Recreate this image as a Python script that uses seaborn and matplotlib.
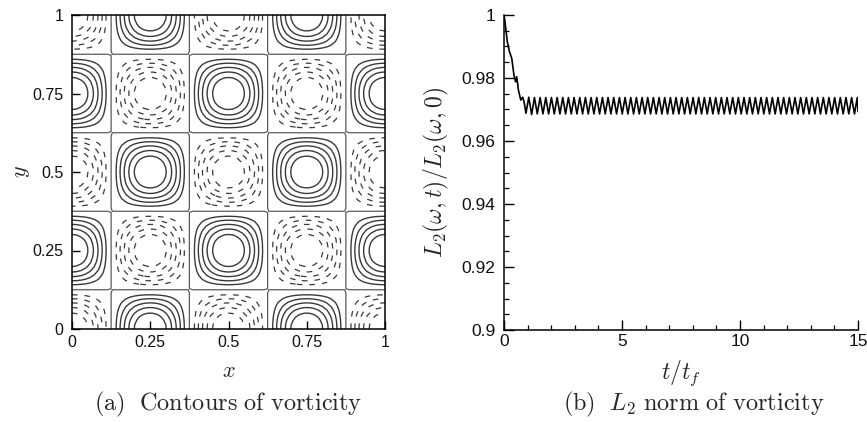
import numpy as np
import pandas as pd
import matplotlib
matplotlib.use("Agg")
import matplotlib.pyplot as plt
import seaborn as sns

# ---------------- panel (a): vorticity contours ----------------
grid_n = 71
vortex_wavenumber = 4.0 * np.pi          # 4 x 4 array of counter-rotating cells
positive_levels = [0.2, 0.35, 0.5, 0.65, 0.8]
negative_levels = [-0.8, -0.65, -0.5, -0.35, -0.2]
zero_level = [0.0]
a_ticks = [0, 0.25, 0.5, 0.75, 1]
a_ticklabels = ["0", "0.25", "0.5", "0.75", "1"]

# ---------------- panel (b): L2 norm history ----------------
transient_t = [0.0, 0.04, 0.14, 0.23, 0.33, 0.42, 0.49, 0.54, 0.61, 0.71, 0.79, 0.85]
transient_v = [1.0, 0.998, 0.9915, 0.9884, 0.9862, 0.981, 0.9788, 0.9804, 0.9762, 0.973, 0.9739, 0.9725]
osc_t = [0.93, 1.05, 1.17, 1.29, 1.41, 1.53, 1.65, 1.77, 1.89, 2.01,
         2.13, 2.25, 2.37, 2.49, 2.61, 2.73, 2.85, 2.97, 3.09, 3.21,
         3.33, 3.45, 3.57, 3.69, 3.81, 3.93, 4.05, 4.17, 4.29, 4.41,
         4.53, 4.65, 4.77, 4.89, 5.01, 5.13, 5.25, 5.37, 5.49, 5.61,
         5.73, 5.85, 5.97, 6.09, 6.21, 6.33, 6.45, 6.57, 6.69, 6.81,
         6.93, 7.05, 7.17, 7.29, 7.41, 7.53, 7.65, 7.77, 7.89, 8.01,
         8.13, 8.25, 8.37, 8.49, 8.61, 8.73, 8.85, 8.97, 9.09, 9.21,
         9.33, 9.45, 9.57, 9.69, 9.81, 9.93, 10.05, 10.17, 10.29, 10.41,
         10.53, 10.65, 10.77, 10.89, 11.01, 11.13, 11.25, 11.37, 11.49, 11.61,
         11.73, 11.85, 11.97, 12.09, 12.21, 12.33, 12.45, 12.57, 12.69, 12.81,
         12.93, 13.05, 13.17, 13.29, 13.41, 13.53, 13.65, 13.77, 13.89, 14.01,
         14.13, 14.25, 14.37, 14.49, 14.61, 14.73, 14.85, 14.97, 15.0]
osc_v = [0.9688, 0.9739, 0.9684, 0.9738, 0.9686, 0.9738, 0.9686, 0.9738, 0.9686, 0.9738,
         0.9686, 0.9738, 0.9686, 0.9738, 0.9686, 0.9738, 0.9686, 0.9738, 0.9686, 0.9738,
         0.9686, 0.9738, 0.9686, 0.9738, 0.9686, 0.9738, 0.9686, 0.9738, 0.9686, 0.9738,
         0.9686, 0.9738, 0.9686, 0.9738, 0.9686, 0.9738, 0.9686, 0.9738, 0.9686, 0.9738,
         0.9686, 0.9738, 0.9686, 0.9738, 0.9686, 0.9738, 0.9686, 0.9738, 0.9686, 0.9738,
         0.9686, 0.9738, 0.9686, 0.9738, 0.9686, 0.9738, 0.9686, 0.9738, 0.9686, 0.9738,
         0.9686, 0.9738, 0.9686, 0.9738, 0.9686, 0.9738, 0.9686, 0.9738, 0.9686, 0.9738,
         0.9686, 0.9738, 0.9686, 0.9738, 0.9686, 0.9738, 0.9686, 0.9738, 0.9686, 0.9738,
         0.9686, 0.9738, 0.9686, 0.9738, 0.9686, 0.9738, 0.9686, 0.9738, 0.9686, 0.9738,
         0.9686, 0.9738, 0.9686, 0.9738, 0.9686, 0.9738, 0.9686, 0.9738, 0.9686, 0.9738,
         0.9686, 0.9738, 0.9686, 0.9738, 0.9686, 0.9738, 0.9686, 0.9738, 0.9686, 0.9738,
         0.9686, 0.9738, 0.9686, 0.9738, 0.9686, 0.9738, 0.9686, 0.9738, 0.9693]
b_xticks = [0, 5, 10, 15]
b_yticks = [0.9, 0.92, 0.94, 0.96, 0.98, 1.0]
b_yticklabels = ["0.9", "0.92", "0.94", "0.96", "0.98", "1"]

# ---------------- style ----------------
sns.set_theme(style="ticks")
plt.rcParams["font.family"] = ["Liberation Sans", "DejaVu Sans"]
plt.rcParams["mathtext.fontset"] = "cm"
plt.rcParams["axes.linewidth"] = 1.1
plt.rcParams["axes.edgecolor"] = "black"

fig = plt.figure(figsize=(8.67, 4.22), dpi=100)
ax_a = fig.add_axes([72 / 867, 1 - 329 / 422, 313 / 867, 314 / 422])
ax_b = fig.add_axes([504 / 867, 1 - 330 / 422, 354 / 867, 315 / 422])

# ---- panel (a)
gx = np.linspace(0, 1, grid_n)
X, Y = np.meshgrid(gx, gx)
W = -np.cos(vortex_wavenumber * X) * np.cos(vortex_wavenumber * Y)
line_col = "#3a3a3a"
ax_a.contour(X, Y, W, levels=positive_levels, colors=line_col, linewidths=1.0,
             linestyles="solid")
ax_a.contour(X, Y, W, levels=negative_levels, colors=line_col, linewidths=0.9,
             linestyles=[(0, (4.5, 5.5))])
ax_a.contour(X, Y, W, levels=zero_level, colors="#5a5a5a", linewidths=0.9,
             linestyles="solid")
ax_a.set_xlim(0, 1)
ax_a.set_ylim(0, 1)
ax_a.set_xticks(a_ticks)
ax_a.set_xticklabels(a_ticklabels)
ax_a.set_yticks(a_ticks)
ax_a.set_yticklabels(a_ticklabels)
ax_a.tick_params(direction="in", length=6, width=1.0, labelsize=11.5, pad=4,
                 colors="black", labelcolor="#111111")
ax_a.tick_params(axis="y", pad=6)
for s in ax_a.spines.values():
    s.set_visible(True)
    s.set_linewidth(1.1)
ax_a.set_xlabel(r"$x$", fontsize=16)
ax_a.set_ylabel(r"$y$", fontsize=16)
ax_a.xaxis.set_label_coords(0.5, -0.135)
ax_a.xaxis.label.set_va("center")
ax_a.yaxis.set_label_coords(-0.16, 0.5)
ax_a.yaxis.label.set_va("center")

# ---- panel (b)
df_b = pd.DataFrame({"t": transient_t + osc_t, "L2": transient_v + osc_v})
sns.lineplot(data=df_b, x="t", y="L2", ax=ax_b, color="black", lw=1.2,
             sort=False, estimator=None)
ax_b.set_xlim(0, 15)
ax_b.set_ylim(0.9, 1.0)
ax_b.set_xticks(b_xticks)
ax_b.set_xticklabels([str(v) for v in b_xticks])
ax_b.set_yticks(b_yticks)
ax_b.set_yticklabels(b_yticklabels)
ax_b.set_xticks(np.arange(0, 15.01, 1), minor=True)
ax_b.set_yticks(np.arange(0.9, 1.0001, 0.005), minor=True)
ax_b.tick_params(which="major", direction="in", length=7, width=1.0,
                 labelsize=12.5, colors="black", labelcolor="#111111")
ax_b.tick_params(which="minor", direction="in", length=3.5, width=0.9, colors="black")
ax_b.tick_params(axis="y", which="major", pad=6)
ax_b.tick_params(axis="x", which="major", pad=3)
ax_b.spines["top"].set_visible(False)
ax_b.spines["right"].set_visible(False)
ax_b.set_xlabel(r"$t/t_f$", fontsize=17)
ax_b.set_ylabel(r"$L_2(\omega,t)/L_2(\omega,0)$", fontsize=17)
ax_b.xaxis.set_label_coords(0.5, -0.137)
ax_b.xaxis.label.set_va("center")
ax_b.yaxis.set_label_coords(-0.19, 0.5)
ax_b.yaxis.label.set_va("center")

# ---- captions
fig.text(228 / 867, 1 - 404 / 422, r"$\mathrm{(a)\ \ Contours\ of\ vorticity}$",
         ha="center", va="center", fontsize=17.5)
fig.text(694 / 867, 1 - 404 / 422, r"$\mathrm{(b)}\ \ L_2\ \mathrm{norm\ of\ vorticity}$",
         ha="center", va="center", fontsize=17.5)

fig.savefig("out.png", dpi=100)
